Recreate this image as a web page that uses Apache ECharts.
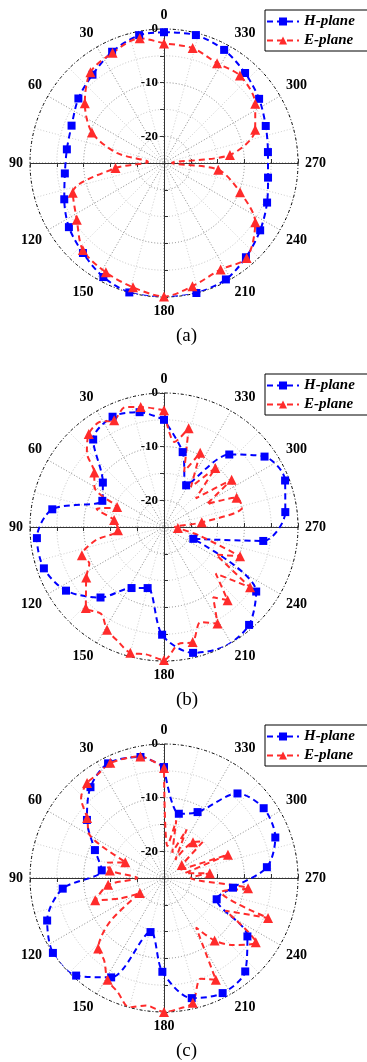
<!DOCTYPE html>
<html>
<head>
<meta charset="utf-8">
<script src="https://cdn.jsdelivr.net/npm/echarts@6/dist/echarts.min.js"></script>
<style>
html, body { margin: 0; padding: 0; background: #fff; }
#chart { width: 367px; height: 1062px; }
</style>
</head>
<body>
<div id="chart"></div>
<script>
// radiation patterns, [angle (deg), normalised gain (dB)]
var hA = [[0,-0.6],[11,-0.7],[25,-2.1],[39,-3.8],[53,-5.0],[68,-6.4],[82,-6.7],[96,-6.4],[110,-5.2],[124,-3.6],[138,-2.4],[152,-0.9],[165,0],[180,0],[194,0],[208,-0.4],[221,-1.7],[235,-3.1],[249,-4.4],[262,-5.4],[276,-5.5],[290,-4.8],[304,-3.6],[318,-2.4],[332,-1.1],[346,-0.4],[360,-0.6]];
var hAMarks = [0,11,25,39,53,68,82,96,110,124,138,152,165,194,208,221,235,249,262,276,290,304,318,332,346];

var eA = [[0,-2.7],[11,-1.3],[25,-2.3],[39,-3.2],[53,-6.5],[67,-10.4],[78,-16],[86,-22],[96,-15.9],[108,-7.1],[123,-5.6],[137,-2.8],[152,-1.9],[166,-1.1],[180,-0.1],[193,-1.4],[208,-2.5],[221,-1.5],[237,-4.7],[249,-9.8],[263,-14.8],[270,-23.5],[277,-12.6],[290,-6.9],[303,-4.7],[319,-3.4],[332,-3.9],[346,-2.9],[360,-2.7]];
var eAMarks = [0,11,25,39,53,67,96,108,123,137,152,166,180,193,208,221,237,249,263,277,290,303,319,332,346];

var hB = [[0,-5.0],[12,-3.1],[25,-2.3],[39,-4.0],[54,-10.9],[67,-12.5],[81,-3.9],[95,-1.2],[109,-1.3],[123,-3.2],[138,-7.3],[152,-12.1],[165,-13.2],[179,-4.9],[193,-0.9],[207,0],[221,-0.8],[235,-4.0],[248,-19.1],[262,-6.3],[277,-2.2],[291,-0.8],[305,-2.1],[318,-6.8],[332,-16.2],[346,-10.6],[360,-5.0]];
var hBMarks = [0,12,25,39,54,67,81,95,109,123,138,152,165,179,193,207,221,235,248,262,277,291,305,318,332,346];

var eB = [[0,-3.2],[11,-2.2],[18,-1.5],[25,-3.0],[32,-2],[39,-2.7],[46,-5],[52,-8.5],[60,-10],[67,-15.5],[75,-12],[82,-15.6],[94,-16.4],[101,-12],[109,-8.8],[116,-9.5],[123,-7.7],[130,-6],[136,-4.0],[144,-5],[151,-3.1],[158,-2],[165,-0.7],[172,-1],[180,-0.2],[187,-3],[194,-2.9],[201,-6],[209,-4.4],[215,-9],[221,-6.9],[228,-12],[235,-5.4],[242,-14],[249,-9.8],[256,-18],[266,-22.4],[270,-23],[277,-17.9],[284,-10],[292,-10.4],[298,-16],[305,-9.6],[312,-17],[319,-10.4],[326,-16],[334,-9.6],[340,-14],[346,-6.0],[353,-9],[360,-3.2]];
var eBMarks = [0,11,25,39,52,67,82,94,109,123,136,151,165,180,194,209,221,235,249,266,277,292,305,319,334,346];

var hC = [[0,-4.3],[11,-2.0],[26,-1.2],[39,-3.2],[53,-7.0],[68,-11.1],[83,-13.3],[96,-6.0],[110,-1.8],[124,0],[138,-0.5],[152,-4.0],[166,-14.6],[179,-7.5],[193,-2.0],[207,-0.9],[221,-1.9],[235,-6.0],[248,-14.4],[262,-12.0],[276,-5.7],[290,-2.9],[305,-2.3],[319,-4.1],[333,-11.2],[347,-12.7],[360,-4.3]];
var hCMarks = [0,11,26,39,53,68,83,96,110,124,138,152,166,179,193,207,221,235,248,262,276,290,305,319,333,347];

var eC = [[0,-4.5],[11,-1.9],[25,-1.3],[32,-2],[39,-2.2],[46,-3.5],[52,-6.8],[60,-9],[68,-17.2],[75,-14],[82,-14.8],[90,-20],[97,-14.5],[108,-11.5],[115,-16],[122,-19.7],[129,-12],[137,-7.0],[144,-6],[151,-3.3],[158,-2],[165,0],[172,-1],[180,0],[187,-0.5],[193,-1.1],[200,-5],[207,-3.7],[213,-14],[219,-10.0],[226,-7],[235,-4.1],[242,-12],[249,-4.2],[256,-14],[263,-9.2],[270,-20],[276,-16.4],[283,-21],[290,-12.3],[298,-22],[306,-20.9],[313,-15],[321,-16.4],[328,-21],[335,-15],[342,-20],[348,-14],[354,-19],[360,-4.5]];
var eCMarks = [0,11,25,39,52,68,82,97,108,122,137,151,165,180,193,207,219,235,249,263,276,290,306,321];

var angleTicks = [0,30,60,90,120,150,180,210,240,270,300,330];
var radiusLabels = [0,-10,-20];
var captions = ['(a)','(b)','(c)'];

var panels = [
  { cy: 163, h: hA, hm: hAMarks, e: eA, em: eAMarks },
  { cy: 527, h: hB, hm: hBMarks, e: eB, em: eBMarks },
  { cy: 878, h: hC, hm: hCMarks, e: eC, em: eCMarks }
];

var FONT = 'Liberation Serif';
var CX = 164, R = 134;
var polar = [], angleAxis = [], radiusAxis = [], series = [], legend = [], title = [];

function lineSeries(name, pts, marks, pi, color, symbol, size) {
  return {
    name: name, type: 'line', coordinateSystem: 'polar', polarIndex: pi,
    data: pts.map(function (p) { return [p[1], p[0]]; }),
    smooth: 0.3,
    symbol: symbol,
    symbolSize: function (v) { return marks.indexOf(v[1]) >= 0 ? size : 0; },
    lineStyle: { color: color, width: 2, type: [6, 4] },
    itemStyle: { color: color },
    z: 5
  };
}

panels.forEach(function (p, k) {
  var base = polar.length;
  // main polar + three extra spokes (90/180/270 axes with ticks)
  [90, 0, 180, 270].forEach(function (start, j) {
    var pi = base + j;
    polar.push({ center: [CX, p.cy], radius: R });
    if (j === 0) {
      angleAxis.push({
        polarIndex: pi, type: 'value', min: 0, max: 360, interval: 30,
        startAngle: 90, clockwise: false,
        axisLine: { show: true, lineStyle: { color: '#000', width: 1, type: [3, 2, 1, 2] } },
        axisTick: { show: false },
        axisLabel: {
          show: true, margin: 7, color: '#000', fontFamily: FONT, fontWeight: 'bold', fontSize: 14,
          formatter: function (v) { return angleTicks.indexOf(v) >= 0 ? String(v) : ''; }
        },
        splitLine: { show: true, lineStyle: { color: '#8a8a8a', width: 1, type: [1, 2] } },
        minorTick: { show: false, splitNumber: 2 },
        minorSplitLine: { show: true, lineStyle: { color: '#cfcfcf', width: 1, type: [1, 2] } }
      });
      radiusAxis.push({
        polarIndex: pi, type: 'value', min: -25, max: 0, interval: 5,
        axisLine: { show: true, lineStyle: { color: '#333', width: 1 } },
        axisTick: { show: true, length: 4, lineStyle: { color: '#333' } },
        axisLabel: {
          show: true, inside: true, margin: 6, color: '#000', fontFamily: FONT, fontWeight: 'bold', fontSize: 13,
          formatter: function (v) { return radiusLabels.indexOf(v) >= 0 ? String(v) : ''; }
        },
        splitLine: { show: true, lineStyle: { color: ['rgba(0,0,0,0)', '#8a8a8a', '#c4c4c4', '#8a8a8a', '#c4c4c4', 'rgba(0,0,0,0)'], width: 1, type: [1, 2] } }
      });
    } else {
      angleAxis.push({
        polarIndex: pi, type: 'value', min: 0, max: 360, startAngle: start, clockwise: false, show: false
      });
      radiusAxis.push({
        polarIndex: pi, type: 'value', min: -25, max: 0, interval: 5,
        axisLine: { show: true, lineStyle: { color: '#333', width: 1 } },
        axisTick: { show: true, length: 4, lineStyle: { color: '#333' } },
        axisLabel: { show: false },
        splitLine: { show: false }
      });
    }
  });
  series.push(lineSeries('H-plane', p.h, p.hm, base, '#0000ff', 'rect', 8));
  series.push(lineSeries('E-plane', p.e, p.em, base, '#ff2b2b', 'triangle', 10));
  legend.push({
    orient: 'vertical', left: 265, top: p.cy - 153,
    padding: [4, 40, 3, 1], itemGap: 4, itemWidth: 32, itemHeight: 10,
    borderColor: '#000', borderWidth: 1, selectedMode: false,
    data: ['H-plane', 'E-plane'],
    textStyle: { fontFamily: FONT, fontStyle: 'italic', fontWeight: 'bold', fontSize: 15, color: '#000' }
  });
  title.push({
    text: captions[k], left: 171, top: p.cy + 159,
    textStyle: { fontFamily: FONT, fontWeight: 'normal', fontSize: 19, color: '#000' }
  });
});

var chart = echarts.init(document.getElementById('chart'));
chart.setOption({
  animation: false,
  backgroundColor: '#fff',
  title: title,
  legend: legend,
  polar: polar,
  angleAxis: angleAxis,
  radiusAxis: radiusAxis,
  series: series
});
</script>
</body>
</html>
